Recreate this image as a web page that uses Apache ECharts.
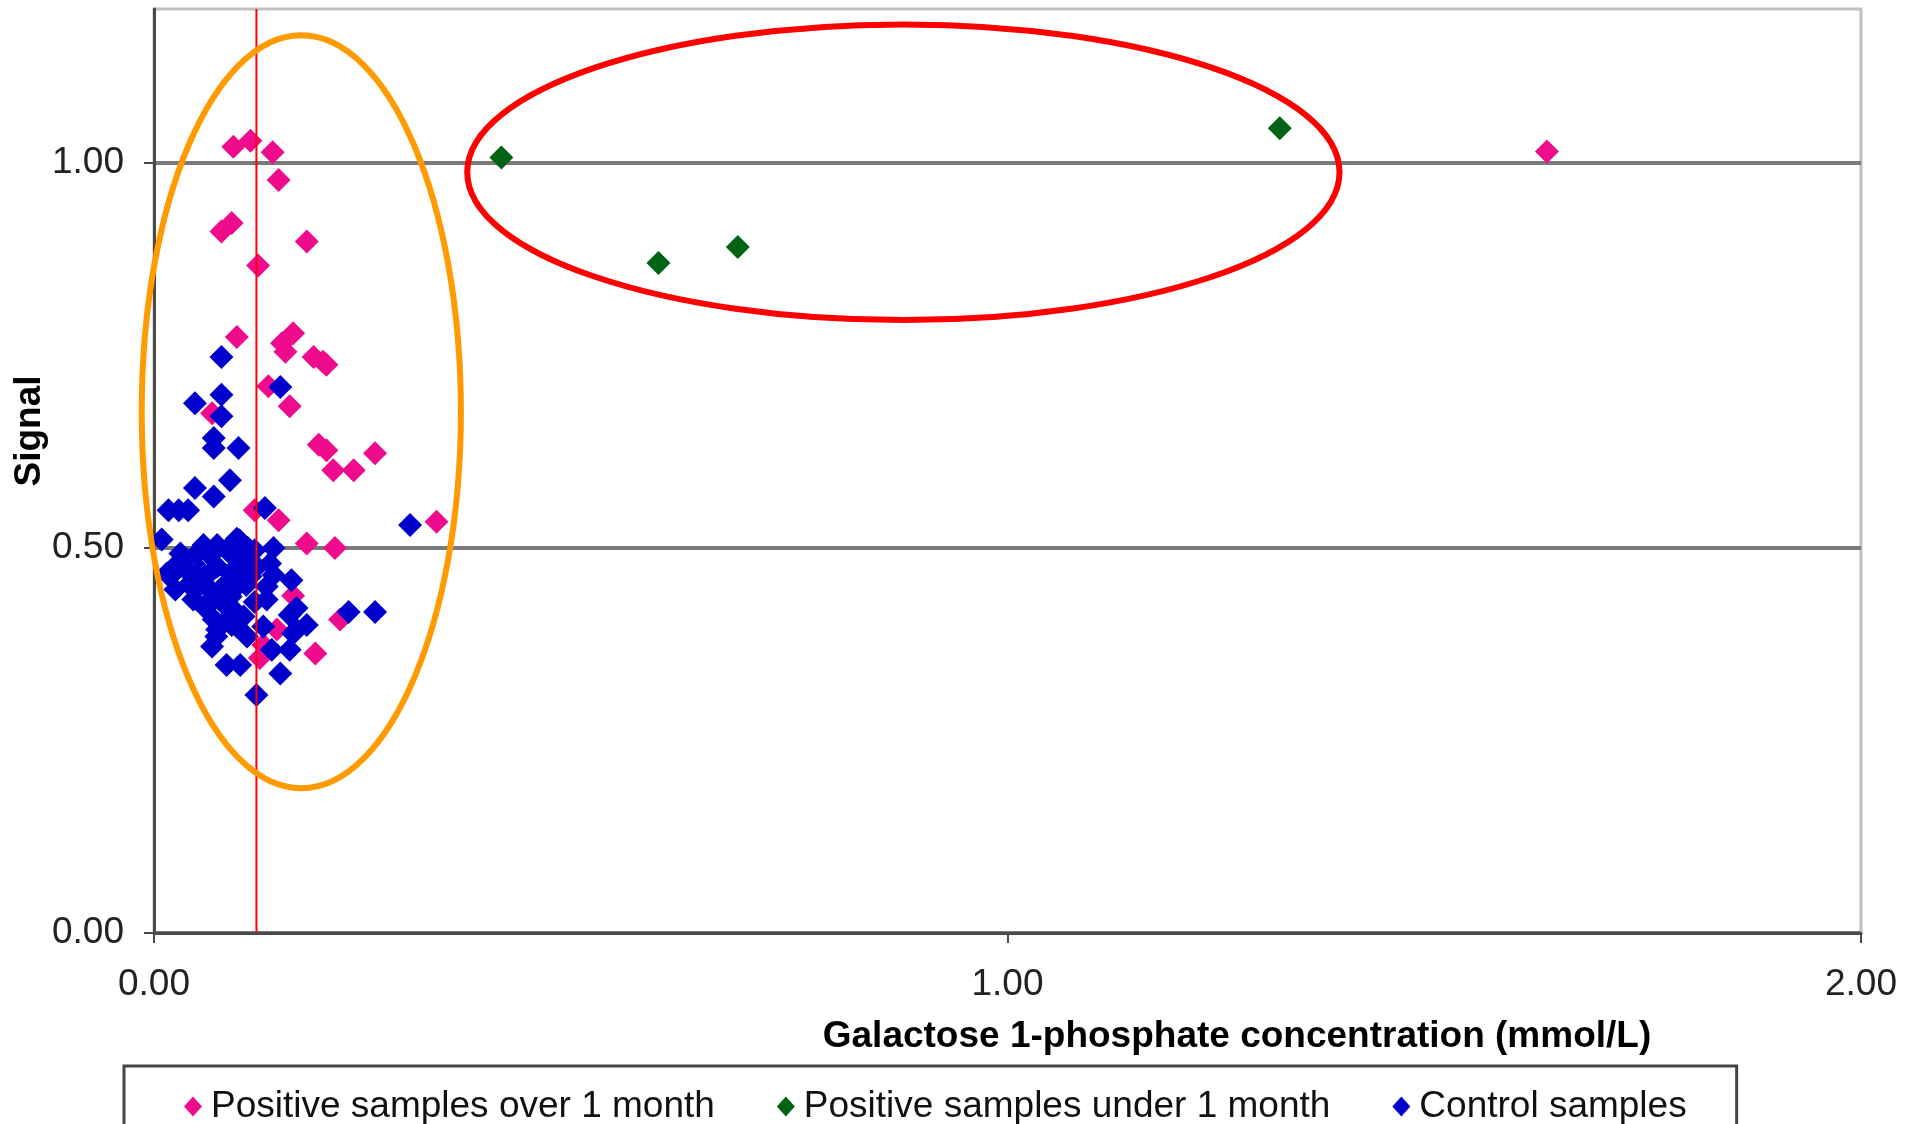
<!DOCTYPE html>
<html><head><meta charset="utf-8">
<script src="https://cdn.jsdelivr.net/npm/echarts@6/dist/echarts.min.js"></script>
<style>html,body{margin:0;padding:0;background:#fff}#c{width:1905px;height:1124px}</style>
</head><body><div id="c"></div>
<script>
// ---- data ----
const seriesNames = ['Positive samples over 1 month', 'Positive samples under 1 month', 'Control samples'];
const xTickValues = [0, 1, 2];
const yTickValues = [0, 0.5, 1];
const cutoff = 0.12;

const positiveOver = [
  [0.093,1.021],[0.113,1.029],[0.139,1.014],[0.146,0.978],[0.079,0.911],[0.091,0.922],[0.179,0.898],[0.122,0.867],
  [0.097,0.774],[0.163,0.779],[0.150,0.766],[0.154,0.755],[0.187,0.748],[0.198,0.742],[0.202,0.738],[0.134,0.710],
  [0.159,0.684],[0.068,0.675],[0.193,0.634],[0.202,0.627],[0.210,0.601],[0.234,0.601],[0.259,0.623],[0.118,0.549],
  [0.146,0.536],[0.331,0.534],[0.179,0.506],[0.212,0.500],[0.163,0.438],[0.218,0.407],[0.144,0.394],[0.189,0.363],
  [0.128,0.374],[0.124,0.357],[1.632,1.015]
];
const positiveUnder = [
  [0.407,1.007],[0.591,0.870],[0.684,0.891],[1.319,1.045]
];
const control = [
  [0.079,0.748],[0.148,0.709],[0.079,0.699],[0.048,0.688],[0.079,0.671],[0.070,0.643],[0.070,0.630],[0.099,0.630],
  [0.089,0.588],[0.048,0.578],[0.070,0.567],[0.017,0.549],[0.029,0.549],[0.040,0.549],[0.130,0.552],[0.300,0.530],
  [0.009,0.511],[0.097,0.512],[0.140,0.500],
  [0.031,0.493],[0.058,0.504],[0.074,0.504],[0.050,0.493],[0.034,0.480],[0.015,0.467],[0.019,0.463],[0.025,0.446],
  [0.046,0.433],[0.060,0.422],[0.070,0.407],[0.074,0.394],[0.097,0.398],[0.105,0.411],[0.113,0.463],[0.113,0.484],
  [0.093,0.489],[0.089,0.467],[0.074,0.476],[0.054,0.471],[0.038,0.471],[0.042,0.454],[0.062,0.450],[0.081,0.450],
  [0.097,0.450],[0.081,0.428],[0.093,0.420],[0.085,0.407],[0.118,0.497],[0.136,0.480],[0.140,0.465],[0.132,0.450],
  [0.132,0.433],[0.120,0.475],[0.100,0.510],[0.110,0.500],[0.066,0.490],[0.085,0.498],[0.102,0.475],[0.060,0.462],
  [0.026,0.478],[0.048,0.445],[0.070,0.437],[0.090,0.437],[0.108,0.452],[0.118,0.430],
  [0.068,0.372],[0.073,0.385],[0.091,0.400],[0.085,0.348],[0.101,0.348],[0.138,0.368],[0.148,0.337],[0.120,0.309],
  [0.109,0.385],[0.159,0.368],[0.167,0.394],[0.161,0.458],[0.167,0.422],[0.159,0.413],[0.228,0.417],[0.259,0.417],
  [0.179,0.400],[0.163,0.389],[0.128,0.398]
];
// annotation ellipses in data units: [cx, cy, rx, ry]
const orangeEllipse = [0.1726, 0.677, 0.187, 0.489];
const redEllipse = [0.878, 0.988, 0.511, 0.192];

const FONT = 'Liberation Sans, Arial, sans-serif';
const chart = echarts.init(document.getElementById('c'));
const option = {
  animation: false,
  backgroundColor: '#fff',
  grid: { left: 154, right: 44, top: 9, bottom: 191, show: true, borderColor: '#c0c0c0', borderWidth: 3, containLabel: false, outerBoundsMode: 'none' },
  legend: {
    data: seriesNames,
    left: 124, top: 1066,
    orient: 'horizontal',
    icon: 'diamond',
    itemWidth: 18, itemHeight: 20, itemGap: 62,
    padding: [22, 50, 40, 60],
    borderColor: '#444', borderWidth: 3,
    textStyle: { fontFamily: FONT, fontSize: 37, color: '#111', padding: [3, 0, 0, 4] }
  },
  xAxis: {
    type: 'value', min: 0, max: 2, interval: 1,
    name: 'Galactose 1-phosphate concentration (mmol/L)',
    nameLocation: 'middle', nameGap: 85, nameMoveOverlap: false,
    nameTextStyle: { fontFamily: FONT, fontSize: 37, fontWeight: 'bold', color: '#000', padding: [0, 0, 0, 459] },
    axisLine: { show: true, onZero: false, lineStyle: { color: '#4a4a4a', width: 3 } },
    axisTick: { show: true, length: 10, lineStyle: { color: '#4a4a4a', width: 2 } },
    axisLabel: { fontFamily: FONT, fontSize: 37, color: '#222', margin: 33, formatter: v => xTickValues.includes(v) ? v.toFixed(2) : '' },
    splitLine: { show: false }
  },
  yAxis: {
    type: 'value', min: 0, max: 1.2, interval: 0.5,
    name: 'Signal', nameLocation: 'middle', nameGap: 106, nameMoveOverlap: false,
    nameTextStyle: { fontFamily: FONT, fontSize: 37, fontWeight: 'bold', color: '#000', padding: [0, 0, 0, 80] },
    axisLine: { show: true, onZero: false, lineStyle: { color: '#4a4a4a', width: 3 } },
    axisTick: { show: true, length: 10, lineStyle: { color: '#4a4a4a', width: 2 }, customValues: yTickValues },
    axisLabel: { fontFamily: FONT, fontSize: 37, color: '#222', margin: 30, showMaxLabel: false, formatter: v => yTickValues.includes(v) ? v.toFixed(2) : '' },
    splitLine: { show: true, lineStyle: { color: ['#7a7a7a', '#7a7a7a', '#7a7a7a', '#c0c0c0'], width: 4 } }
  },
  series: [
    { name: seriesNames[0], type: 'scatter', data: positiveOver, symbol: 'diamond', symbolSize: 24, itemStyle: { color: '#ee0c8c', opacity: 1 }, z: 2 },
    { name: seriesNames[1], type: 'scatter', data: positiveUnder, symbol: 'diamond', symbolSize: 24, itemStyle: { color: '#006414', opacity: 1 }, z: 3 },
    { name: seriesNames[2], type: 'scatter', data: control, symbol: 'diamond', symbolSize: 24, itemStyle: { color: '#0000cc', opacity: 1 }, z: 4 }
  ]
};
chart.setOption(option);

function ellipseGraphic(e, color) {
  const c = chart.convertToPixel({ gridIndex: 0 }, [e[0], e[1]]);
  const px = chart.convertToPixel({ gridIndex: 0 }, [e[0] + e[2], e[1] + e[3]]);
  return { type: 'ellipse', z: 100, silent: true,
    shape: { cx: c[0], cy: c[1], rx: Math.abs(px[0] - c[0]), ry: Math.abs(c[1] - px[1]) },
    style: { fill: 'none', stroke: color, lineWidth: 6 } };
}
const lb = chart.convertToPixel({ gridIndex: 0 }, [cutoff, 0]);
const lt = chart.convertToPixel({ gridIndex: 0 }, [cutoff, 1.2]);
chart.setOption({ graphic: [
  { type: 'line', z: 90, silent: true, shape: { x1: lb[0], y1: lb[1], x2: lt[0], y2: lt[1] }, style: { stroke: '#ff0000', lineWidth: 2 } },
  ellipseGraphic(orangeEllipse, '#ff9a00'),
  ellipseGraphic(redEllipse, '#ff0000')
] });
</script>
</body></html>
